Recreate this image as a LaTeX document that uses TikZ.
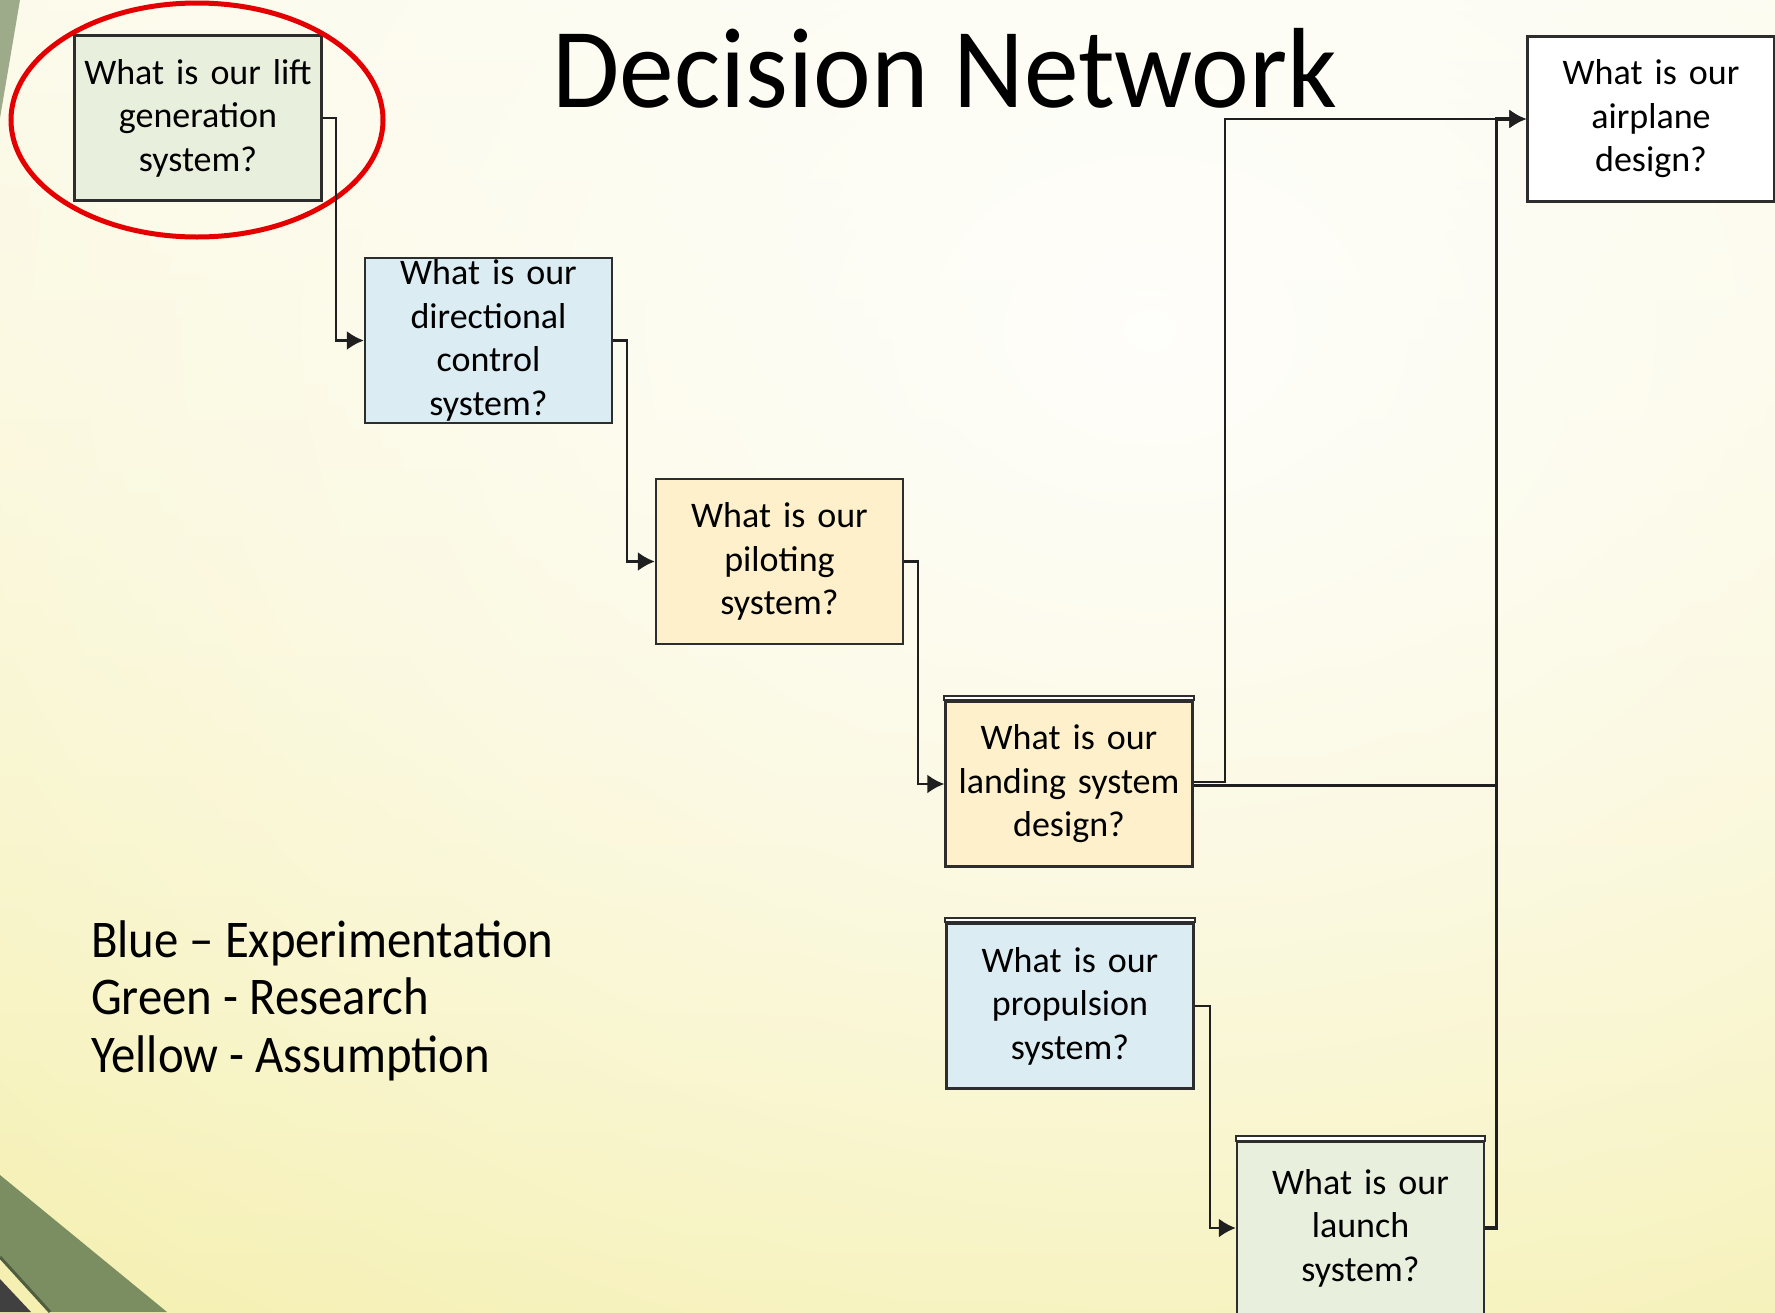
\documentclass[tikz,border=0pt]{standalone}
\usepackage{fontspec}
\setmainfont{Carlito}
\usetikzlibrary{arrows.meta,fadings}

\definecolor{bgtop}{RGB}{251,249,226}
\definecolor{bgbot}{RGB}{244,238,166}
\definecolor{wedgetop}{RGB}{158,171,138}
\definecolor{wedgegreen}{RGB}{122,142,98}
\definecolor{wedgedark}{RGB}{78,94,62}
\definecolor{wedgegrey}{RGB}{64,64,64}
\definecolor{boxline}{RGB}{45,45,45}
\definecolor{fillgreen}{RGB}{233,239,221}
\definecolor{fillblue}{RGB}{219,236,243}
\definecolor{fillyellow}{RGB}{253,240,202}
\definecolor{hired}{RGB}{228,0,0}

\tikzfading[name=glowfade, inner color=transparent!0, outer color=transparent!100]

\tikzset{
  qbox/.style={draw=boxline, line width=2.4pt, fill=#1, minimum width=247pt,
    minimum height=165pt, text width=240pt, align=center, inner sep=0pt,
    font=\fontsize{36}{43.5}\selectfont},
  conn/.style={draw=black!88, line width=2.4pt, -{Latex[length=17pt,width=19pt]}},
  wire/.style={draw=black!88, line width=2.4pt},
  topedge/.style={draw=boxline, line width=2pt, fill=white},
  legendtext/.style={anchor=base west, inner sep=0pt, font=\fontsize{53}{58}\selectfont},
  hilite/.style={draw=hired, line width=5pt}
}

\begin{document}
\begin{tikzpicture}[x=1pt,y=-1pt]
  \useasboundingbox (0,0) rectangle (1775,1312);
  \clip (0,0) rectangle (1775,1312);

  % slide background
  \shade[top color=bgtop, bottom color=bgbot] (0,0) rectangle (1775,1312);
  \fill[white, path fading=glowfade, fill opacity=0.9] (1150,330) ellipse (1900 and 1500);

  % theme corner wedges
  \fill[wedgetop] (0,0) -- (20,0) -- (0,118) -- cycle;
  \fill[wedgegreen] (0,1175) -- (167,1312) -- (50,1312) -- (0,1257) -- cycle;
  \draw[wedgedark, line width=3pt] (0,1257) -- (50,1312);
  \fill[wedgegrey] (0,1279) -- (31,1312) -- (0,1312) -- cycle;

  % title
  \node[anchor=base, inner sep=0pt, font=\fontsize{114}{120}\selectfont] (title) at (945,107) {\scalebox{0.96}[1]{Decision Network}};

  % decision boxes
  \node[qbox=fillgreen]  (lift) at (198,118)    {What is our lift\\generation\\system?};
  \node[qbox=fillblue]   (dir)  at (488.5,340.5) {What is our\\directional\\control\\system?};
  \node[qbox=fillyellow] (pil)  at (779.5,561.5) {What is our\\piloting\\system?};
  \node[qbox=fillyellow] (land) at (1069,784)   {What is our\\landing system\\design?};
  \node[qbox=fillblue]   (prop) at (1070,1006)  {What is our\\propulsion\\system?};
  \node[qbox=fillgreen, minimum height=172pt] (launch) at (1360.5,1228) {What is our\\launch\\system?};
  \node[qbox=white]      (air)  at (1651,119)   {What is our\\airplane\\design?};

  % doubled top edges
  \draw[topedge] (land.north west) rectangle ([yshift=4pt]land.north east);
  \draw[topedge] (prop.north west) rectangle ([yshift=4pt]prop.north east);
  \draw[topedge] (launch.north west) rectangle ([yshift=5pt]launch.north east);

  % highlight around the first decision
  \draw[hilite] (197,120) ellipse (186 and 117);

  % connectors
  \coordinate (spine) at ([xshift=-30pt]air.west);
  \draw[conn] (lift.east) -- ++(13,0) |- (dir.west);
  \draw[conn] (dir.east) -- ++(14,0) |- (pil.west);
  \draw[conn] (pil.east) -- ++(14,0) |- (land.west);
  \draw[conn] ([yshift=2pt]land.east) -- ++(31,0) |- (air.west);
  \draw[wire] ([yshift=-1.5pt]land.east) -- ([yshift=-1.5pt]land.east -| spine);
  \draw[conn] (prop.east) -- ++(15,0) |- (launch.west);
  \draw[conn, line width=3.4pt] (launch.east) -- (launch.east -| spine) -- (spine) -- (air.west);

  % legend
  \node[legendtext] (legB) at (91,957)  {\scalebox{0.92}[1]{Blue – Experimentation}};
  \node[legendtext] (legG) at (91,1014) {\scalebox{0.92}[1]{Green - Research}};
  \node[legendtext] (legY) at (91,1072) {\scalebox{0.92}[1]{Yellow - Assumption}};
\end{tikzpicture}
\end{document}
